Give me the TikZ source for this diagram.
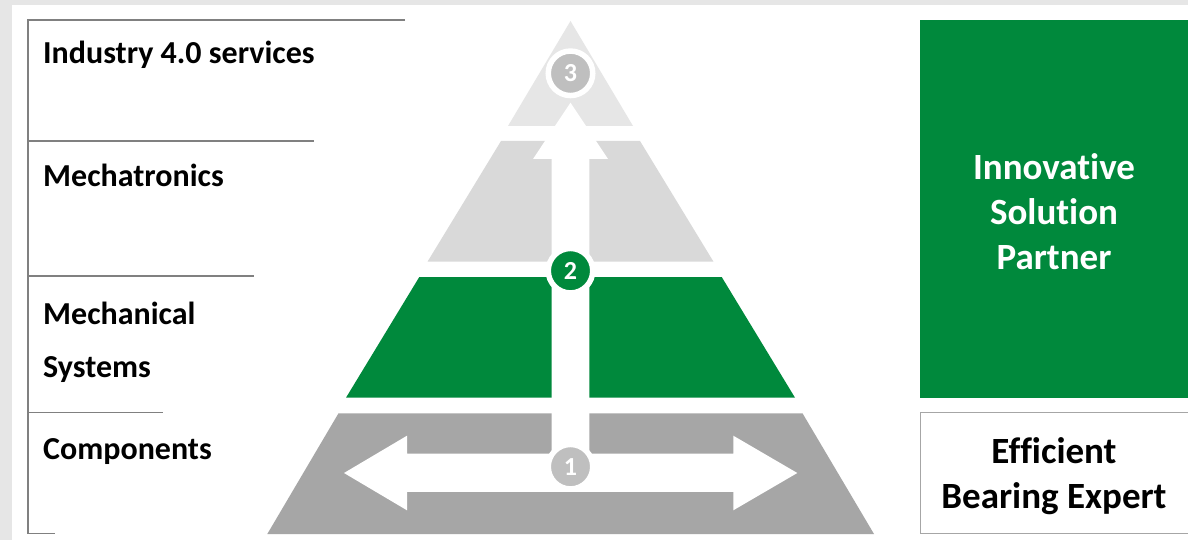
\documentclass[tikz,border=0pt]{standalone}
\usepackage{fontspec}
\setmainfont[Ligatures=NoCommon]{Carlito}
\definecolor{bggray}{HTML}{E6E6E6}
\definecolor{rulegray}{HTML}{808080}
\definecolor{sgreen}{HTML}{00893C}
\definecolor{toptier}{HTML}{E6E6E6}
\definecolor{midtier}{HTML}{D9D9D9}
\definecolor{lowtier}{HTML}{A6A6A6}
\definecolor{numgray}{HTML}{BFBFBF}
\definecolor{boxline}{HTML}{A6A6A6}
\begin{document}
\begin{tikzpicture}[x=1pt,y=-1pt,
  lbl/.style={anchor=base west, inner sep=0pt, font=\fontsize{32}{38}\selectfont\bfseries, text=black},
  rule/.style={draw=rulegray, line width=1.5pt},
  numc/.style={circle, draw=white, line width=5.5pt, minimum size=44.5pt, inner sep=0pt, text=white, font=\fontsize{26}{30}\selectfont\bfseries},
  bigtxt/.style={font=\fontsize{37}{45}\selectfont\bfseries, align=center, inner sep=0pt}
]
\useasboundingbox (0,0) rectangle (1188,540);
\clip (0,0) rectangle (1188,540);
% background
\fill[bggray] (0,0) rectangle (1188,540);
\fill[white] (12,5) rectangle (1188,540);

% left rules
\draw[rule] (405,20) -- (28,20) -- (28,533.3) -- (55,533.3);
\draw[rule] (28,141) -- (314,141);
\draw[rule] (28,276) -- (254,276);
\draw[rule] (28,412.7) -- (163,412.7);

% left labels
\node[lbl] (l4) at (43,64) {Industry 4.0 services};
\node[lbl] (l3) at (43,186) {Mechatronics};
\node[lbl] (l2a) at (43,324) {Mechanical};
\node[lbl] (l2b) at (43,377) {Systems};
\node[lbl] (l1) at (43,459) {Components};

% pyramid tiers
\fill[toptier] (570.5,21) -- (633,126) -- (508,126) -- cycle;
\fill[midtier] (501,141) -- (640,141) -- (713.5,261.7) -- (427.5,261.7) -- cycle;
\fill[sgreen] (419.3,277) -- (721.7,277) -- (795,397.7) -- (346,397.7) -- cycle;
\fill[lowtier] (338.5,413.3) -- (802.5,413.3) -- (874,534) -- (267.3,534) -- cycle;

% vertical white arrow
\fill[white] (570.5,102.7) -- (608,159) -- (589.3,159) -- (589.3,470) -- (551.5,470)
  -- (551.5,159) -- (533,159) -- cycle;
% horizontal double arrow
\fill[white] (344,473) -- (407,435.7) -- (407,453.6) -- (733.3,453.6) -- (733.3,435.7)
  -- (797.3,473) -- (733.3,510.3) -- (733.3,491.8) -- (407,491.8) -- (407,510.3) -- cycle;

% numbered circles
\node[numc, fill=numgray] (n3) at (570.5,73.3) {3};
\node[numc, fill=sgreen] (n2) at (570.5,270.7) {2};
\node[numc, fill=numgray] (n1) at (570.5,466.7) {1};

% right boxes
\node[fill=sgreen, minimum width=280pt, minimum height=378.1pt, anchor=north west, inner sep=0pt] (isp) at (919.6,19.6) {};
\node[bigtxt, text=white] (isptxt) at (1054,212) {Innovative\\Solution\\Partner};
\node[draw=boxline, line width=1pt, fill=white, minimum width=290pt, minimum height=120.9pt, anchor=north west, inner sep=0pt] (ebe) at (919.6,411.7) {};
\node[bigtxt, text=black] (ebetxt) at (1054,476) {Efficient\\Bearing Expert};
\end{tikzpicture}
\end{document}
